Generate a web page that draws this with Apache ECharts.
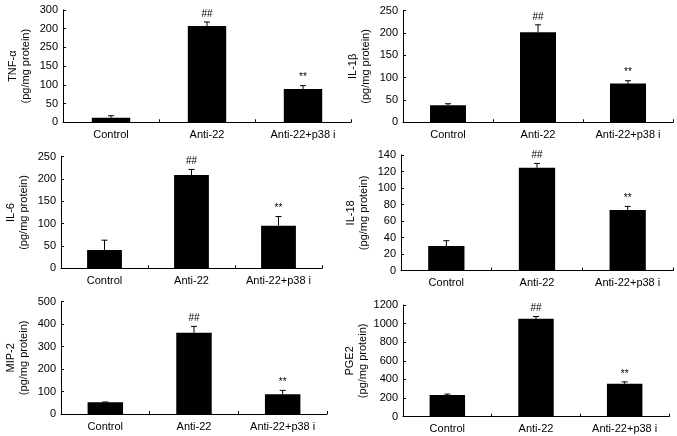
<!DOCTYPE html>
<html>
<head>
<meta charset="utf-8">
<script src="https://cdn.jsdelivr.net/npm/echarts@6/dist/echarts.min.js"></script>
<style>
html,body{margin:0;padding:0;background:#fff;}
#chart{width:677px;height:436px;}
</style>
</head>
<body>
<div id="chart"></div>
<script>
// ---- data ----
const categories = ['Control', 'Anti-22', 'Anti-22+p38 i'];
const marks = ['', '##', '**'];

const tnfName = 'TNF-α';
const tnfValues = [12, 257, 89];
const tnfErrors = [5.5, 11, 9];
const tnfTicks = ['0', '50', '100', '150', '250', '200', '300'];

const il1bName = 'IL-1β';
const il1bValues = [38, 201.5, 86.5];
const il1bErrors = [3.5, 16.5, 6.5];
const il1bTicks = ['0', '50', '100', '150', '200', '250'];

const il6Name = 'IL-6';
const il6Values = [41, 209, 95.5];
const il6Errors = [22, 12.5, 20.5];
const il6Ticks = ['0', '50', '100', '150', '200', '250'];

const il18Name = 'IL-18';
const il18Values = [29.8, 124.6, 73.4];
const il18Errors = [6.5, 5.2, 4.4];
const il18Ticks = ['0', '20', '40', '60', '80', '100', '120', '140'];

const mip2Name = 'MIP-2';
const mip2Values = [52, 362, 87.5];
const mip2Errors = [1.5, 28, 17.5];
const mip2Ticks = ['0', '100', '200', '300', '400', '500'];

const pge2Name = 'PGE2';
const pge2Values = [233, 1052, 353];
const pge2Errors = [10, 24, 21];
const pge2Ticks = ['0', '200', '400', '600', '800', '1000', '1200'];

const unit = '(pg/mg protein)';

// ---- layout ----
const panels = [
  {name: tnfName, values: tnfValues, errors: tnfErrors, ticks: tnfTicks, step: 50,  grid: {left: 63, right: 326, top: 10, bottom: 313.7}},
  {name: il1bName, values: il1bValues, errors: il1bErrors, ticks: il1bTicks, step: 50, grid: {left: 403, right: 4, top: 10.5, bottom: 313.7}},
  {name: il6Name, values: il6Values, errors: il6Errors, ticks: il6Ticks, step: 50, grid: {left: 61, right: 355, top: 156.7, bottom: 167.7}},
  {name: il18Name, values: il18Values, errors: il18Errors, ticks: il18Ticks, step: 20, grid: {left: 401, right: 4, top: 155, bottom: 165.3}},
  {name: mip2Name, values: mip2Values, errors: mip2Errors, ticks: mip2Ticks, step: 100, grid: {left: 61, right: 350, top: 301.7, bottom: 22}},
  {name: pge2Name, values: pge2Values, errors: pge2Errors, ticks: pge2Ticks, step: 200, grid: {left: 403, right: 8, top: 305, bottom: 19.3}}
];

const FONT = 'Liberation Sans, Arial, sans-serif';
const grids = [], xAxes = [], yAxes = [], series = [];

panels.forEach((p, i) => {
  grids.push(Object.assign({containLabel: false}, p.grid));
  xAxes.push({
    type: 'category', gridIndex: i, data: categories,
    axisLine: {lineStyle: {color: '#000', width: 1}},
    axisTick: {show: true, inside: true, length: 3, lineStyle: {color: '#000'}},
    axisLabel: {color: '#000', fontSize: 11, fontFamily: FONT, margin: 7, interval: 0},
    splitLine: {show: false}
  });
  const ticks = p.ticks;
  yAxes.push({
    type: 'value', gridIndex: i, min: 0, max: p.step * (ticks.length - 1), interval: p.step,
    name: p.name + '\n' + unit, nameLocation: 'middle', nameGap: 31,
    nameTextStyle: {color: '#000', fontSize: 11, fontFamily: FONT, lineHeight: 13},
    axisLine: {show: true, lineStyle: {color: '#000', width: 1}},
    axisTick: {show: true, inside: true, length: 3, lineStyle: {color: '#000'}},
    axisLabel: {color: '#000', fontSize: 11, fontFamily: FONT, margin: 5,
      formatter: (v) => ticks[Math.round(v / p.step)]},
    splitLine: {show: false}
  });
  series.push({
    type: 'bar', xAxisIndex: i, yAxisIndex: i, data: p.values,
    barWidth: '40%',
    itemStyle: {color: '#000', borderColor: '#000', borderWidth: 0},
    silent: true
  });
  series.push({
    type: 'custom', xAxisIndex: i, yAxisIndex: i,
    encode: {x: 0, y: 1},
    data: p.values.map((v, k) => [k, v, p.errors[k], marks[k]]),
    z: 5, silent: true,
    renderItem: function (params, api) {
      const k = api.value(0);
      const base = api.coord([k, api.value(1)]);
      const top = api.coord([k, api.value(1) + api.value(2)]);
      const mark = marks[k];
      const children = [
        {type: 'line', shape: {x1: base[0], y1: base[1], x2: top[0], y2: top[1]}, style: {stroke: '#000', lineWidth: 1}},
        {type: 'line', shape: {x1: top[0] - 3, y1: top[1], x2: top[0] + 3, y2: top[1]}, style: {stroke: '#000', lineWidth: 1}}
      ];
      if (mark) {
        children.push({type: 'text', x: top[0], y: top[1] - 3,
          style: {text: mark, fill: '#000', font: '10px ' + FONT, align: 'center', verticalAlign: 'bottom'}});
      }
      return {type: 'group', children: children};
    }
  });
});

const chart = echarts.init(document.getElementById('chart'), null, {renderer: 'canvas'});
chart.setOption({
  animation: false,
  backgroundColor: '#fff',
  textStyle: {fontFamily: FONT},
  grid: grids, xAxis: xAxes, yAxis: yAxes, series: series
});
</script>
</body>
</html>
